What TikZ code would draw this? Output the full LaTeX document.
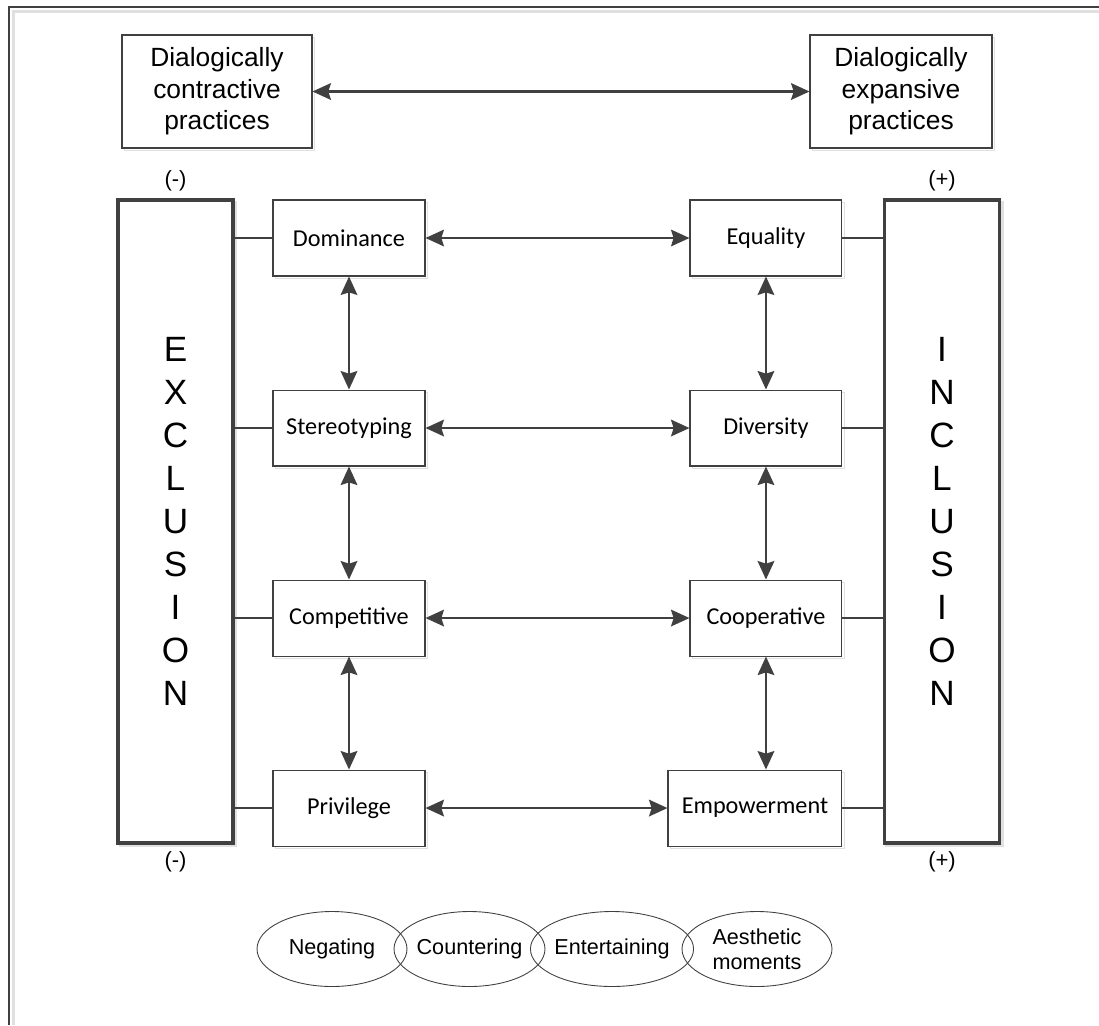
\documentclass[tikz,border=0pt]{standalone}
\usepackage{fontspec}
\setmainfont{Liberation Sans}
\newfontfamily\carlito{Carlito}
\usepackage{tikz}
\usetikzlibrary{positioning,arrows.meta,shapes.geometric,shadows}
\definecolor{darkline}{HTML}{404040}
\tikzset{
  diagram/.style={>={Stealth[length=10.5pt,width=9.5pt,inset=1.5pt]},
    line width=1.2pt},
  shade box/.style={drop shadow={shadow xshift=1.5pt,shadow yshift=-1.5pt,
    fill=none,draw=black!12,opacity=1}},
  practice/.style={rectangle,draw=darkline,line width=0.6pt,fill=white,align=center,
    minimum height=2.26cm,font=\fontsize{15}{18}\selectfont,shade box},
  side/.style={rectangle,draw=darkline,line width=2pt,fill=white,align=center,
    minimum width=2.3cm,minimum height=12.86cm,
    font=\fontsize{20}{24.5}\selectfont,shade box},
  value/.style={rectangle,draw=darkline,line width=0.6pt,fill=white,
    minimum width=3.04cm,minimum height=1.52cm,
    font=\carlito\fontsize{13.8}{16}\selectfont,shade box},
  voice/.style={ellipse,draw=darkline,line width=0.5pt,inner sep=0pt,align=center,
    minimum height=1.5cm,font=\fontsize{12.3}{14.2}\selectfont},
  every label/.style={font=\fontsize{12.5}{14}\selectfont},
  link/.style={draw=darkline,line width=1.2pt},
  both/.style={<->,draw=darkline,line width=1.2pt}
}
\begin{document}
\begin{tikzpicture}[x=0.02cm,y=-0.02cm,diagram]
  \useasboundingbox (0,0) rectangle (1099,1025);
  % frame (only top and left edge in view)
  \draw[black!12,line width=1.5pt] (1099,11.5) -- (13.5,11.5) -- (13.5,1025);
  \draw[darkline,line width=1.7pt] (1099,7) -- (9,7) -- (9,1025);

  \node[practice,minimum width=3.8cm] (con) at (217,91.5) {Dialogically\\contractive\\practices};
  \node[practice,minimum width=3.64cm] (exp) at (901,91.5) {Dialogically\\expansive\\practices};

  \node[side] (exc) [label=above:(-),label=below:(-)] at (175.5,521.5) {E\\X\\C\\L\\U\\S\\I\\O\\N};
  \node[side] (inc) [label=above:(+),label=below:(+)] at (942,521.5) {I\\N\\C\\L\\U\\S\\I\\O\\N};

  \node[value] (dom) at (349,238) {Dominance};
  \node[value] (ste) [below=2.26cm of dom] {Stereotyping};
  \node[value] (com) [below=2.26cm of ste] {Competitive};
  \node[value] (pri) [below=2.26cm of com] {Privilege};

  \node[value] (equ) [right=5.28cm of dom] {Equality};
  \node[value] (div) [below=2.26cm of equ] {Diversity};
  \node[value] (coo) [below=2.26cm of div] {Cooperative};
  \node[value,minimum width=3.48cm] (emp) [below=2.26cm of coo.south east,anchor=north east] {Empowerment};

  \draw[both] (con) to (exp);
  \draw[both] (dom) to (equ);
  \draw[both] (ste) to (div);
  \draw[both] (com) to (coo);
  \draw[both] (pri) to (emp);

  \draw[both] (dom) to (ste);
  \draw[both] (ste) to (com);
  \draw[both] (com) to (pri);
  \draw[both] (equ) to (div);
  \draw[both] (div) to (coo);
  \draw[both] (coo.south) to (coo.south |- emp.north);

  \draw[link] (exc.east |- dom) to (dom);
  \draw[link] (exc.east |- ste) to (ste);
  \draw[link] (exc.east |- com) to (com);
  \draw[link] (exc.east |- pri) to (pri);
  \draw[link] (equ) to (inc.west |- equ);
  \draw[link] (div) to (inc.west |- div);
  \draw[link] (coo) to (inc.west |- coo);
  \draw[link] (emp) to (inc.west |- emp);

  \node[voice,minimum width=3cm] (neg) at (332,949) {Negating};
  \node[voice,minimum width=3.02cm] (cou) at (469.5,949) {Countering};
  \node[voice,minimum width=3.2cm] (ent) at (612,949) {Entertaining};
  \node[voice,minimum width=3cm] (aes) at (757,949) {Aesthetic\\moments};
\end{tikzpicture}
\end{document}
